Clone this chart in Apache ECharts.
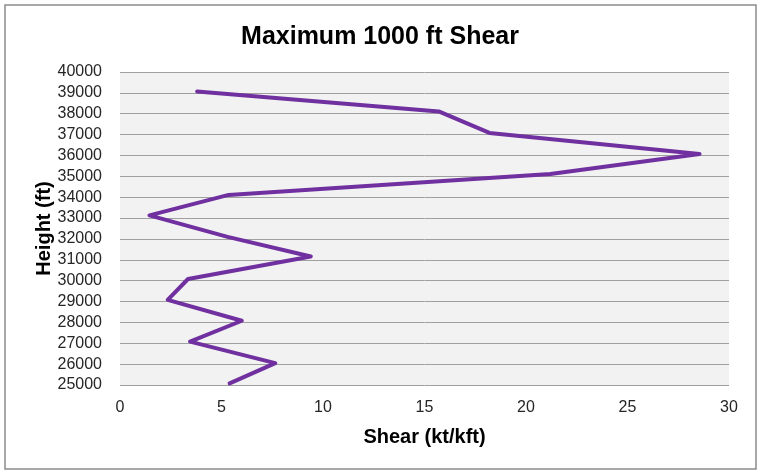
<!DOCTYPE html>
<html>
<head>
<meta charset="utf-8">
<script src="https://cdn.jsdelivr.net/npm/echarts@6/dist/echarts.min.js"></script>
<style>
html,body{margin:0;padding:0;background:#fff;}
#chart{width:760px;height:472px;}
</style>
</head>
<body>
<div id="chart"></div>
<script>
var shear = [5.4, 7.65, 3.45, 6.0, 2.35, 3.35, 9.4, 5.3, 1.45, 5.35, 21.2, 28.55, 18.2, 15.7, 3.8];
var heights = [25080, 26050, 27080, 28080, 29080, 30080, 31160, 32100, 33130, 34110, 35115, 36070, 37080, 38110, 39070];
var titleText = 'Maximum 1000 ft Shear';
var xName = 'Shear (kt/kft)';
var yName = 'Height (ft)';

var points = shear.map(function (s, i) { return [s, heights[i]]; });
var font = '"Liberation Sans", Arial, sans-serif';

var chart = echarts.init(document.getElementById('chart'), null, {renderer: 'canvas'});
chart.setOption({
  animation: false,
  backgroundColor: '#ffffff',
  title: {
    text: titleText,
    left: 'center',
    top: 20,
    textStyle: {fontFamily: font, fontSize: 25, fontWeight: 'bold', color: '#000'}
  },
  graphic: [{
    type: 'rect',
    shape: {x: 5, y: 5, width: 751, height: 464},
    style: {fill: 'none', stroke: '#8c8c8c', lineWidth: 1.5},
    z: -1
  }],
  grid: {
    left: 120, right: 31, top: 72, bottom: 87,
    show: true, backgroundColor: '#f2f2f2', borderWidth: 0
  },
  xAxis: {
    type: 'value', min: 0, max: 30, interval: 5,
    name: xName, nameLocation: 'middle', nameGap: 42,
    nameTextStyle: {fontFamily: font, fontSize: 20, fontWeight: 'bold', color: '#000'},
    axisLine: {show: false}, axisTick: {show: false},
    splitLine: {show: false},
    axisLabel: {fontFamily: font, fontSize: 16, color: '#262626', margin: 15}
  },
  yAxis: {
    type: 'value', min: 25000, max: 40000, interval: 1000,
    name: yName, nameLocation: 'middle', nameGap: 66, nameRotate: 90,
    nameMoveOverlap: false,
    nameTextStyle: {fontFamily: font, fontSize: 20, fontWeight: 'bold', color: '#000'},
    axisLine: {show: false}, axisTick: {show: false},
    splitLine: {show: true, lineStyle: {color: '#a0a0a0', width: 1}},
    axisLabel: {fontFamily: font, fontSize: 16, color: '#262626', margin: 18,
      formatter: function (v) { return String(v); }}
  },
  series: [{
    type: 'line',
    data: points,
    showSymbol: false,
    symbol: 'none',
    lineStyle: {color: '#7030a0', width: 4, join: 'round', cap: 'round'},
    itemStyle: {color: '#7030a0'}
  }]
});
</script>
</body>
</html>
